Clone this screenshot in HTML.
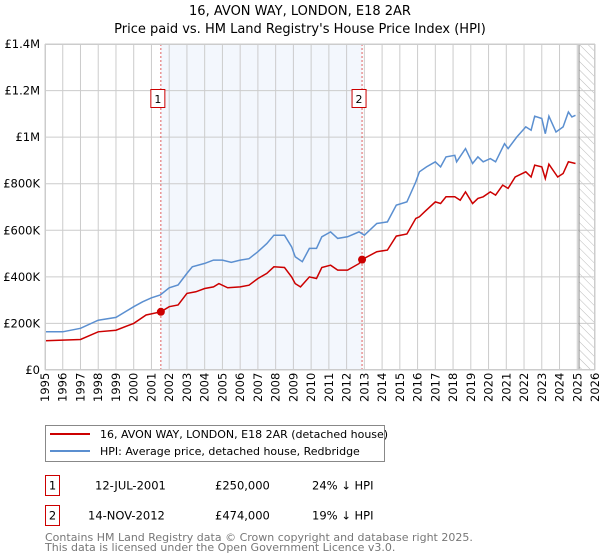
<!DOCTYPE html>
<html><head><meta charset="utf-8"><style>
body{margin:0;background:#fff;font-family:"DejaVu Sans","Liberation Sans",sans-serif;}
svg{display:block}
</style></head><body>
<svg id="c" width="600" height="560" font-family="DejaVu Sans, Liberation Sans, sans-serif">
<defs><pattern id="hatch" width="6" height="6" patternUnits="userSpaceOnUse" patternTransform="rotate(-45)"><line x1="0" y1="0" x2="0" y2="6" stroke="#bbb" stroke-width="1"/></pattern></defs>
<text x="300" y="15" text-anchor="middle" font-size="13">16, AVON WAY, LONDON, E18 2AR</text>
<text x="300" y="33" text-anchor="middle" font-size="13">Price paid vs. HM Land Registry's House Price Index (HPI)</text>
<g id="plot"></g>
<g>
<rect x="45.5" y="425.5" width="339" height="36" fill="#fff" stroke="#888"/>
<line x1="50" y1="434" x2="90" y2="434" stroke="#cc0000" stroke-width="2"/>
<text x="100" y="438" font-size="11">16, AVON WAY, LONDON, E18 2AR (detached house)</text>
<line x1="50" y1="451" x2="90" y2="451" stroke="#5b8fd0" stroke-width="2"/>
<text x="100" y="455" font-size="11">HPI: Average price, detached house, Redbridge</text>
</g>
<g font-size="11.5">
<rect x="45.5" y="475.5" width="14" height="20" fill="#fff" stroke="#cc0000"/>
<text x="52.5" y="489.5" text-anchor="middle">1</text>
<text x="95" y="489.5">12-JUL-2001</text>
<text x="215" y="489.5">£250,000</text>
<text x="312" y="489.5">24% ↓ HPI</text>
<rect x="45.5" y="505.5" width="14" height="20" fill="#fff" stroke="#cc0000"/>
<text x="52.5" y="519.5" text-anchor="middle">2</text>
<text x="88" y="519.5">14-NOV-2012</text>
<text x="215" y="519.5">£474,000</text>
<text x="312" y="519.5">19% ↓ HPI</text>
</g>
<text x="45" y="541" font-size="11" fill="#777">Contains HM Land Registry data © Crown copyright and database right 2025.</text>
<text x="45" y="551" font-size="11" fill="#777">This data is licensed under the Open Government Licence v3.0.</text>
</svg>
<script>
const hpiYears=[1995,1996,1997,1998,1999,2000,2000.5,2001,2001.5,2002,2002.5,2003,2003.3,2004,2004.5,2005,2005.5,2006,2006.5,2007,2007.5,2007.9,2008.5,2008.9,2009.1,2009.5,2009.9,2010.3,2010.6,2011.1,2011.5,2012.05,2012.7,2013,2013.7,2014.3,2014.8,2015.4,2015.9,2016.1,2016.5,2017,2017.3,2017.6,2018.1,2018.2,2018.7,2019.1,2019.4,2019.7,2020.1,2020.4,2020.9,2021.1,2021.6,2022.1,2022.4,2022.6,2023,2023.2,2023.4,2023.8,2024.2,2024.5,2024.7,2024.9];
const hpiValues=[164,164,179,214,226,272,293,310,322,353,365,415,443,458,472,472,462,472,478,508,543,579,579,529,486,465,522,522,572,593,565,572,593,579,629,636,708,722,808,851,872,894,872,915,922,894,951,887,915,894,908,894,972,951,1001,1044,1030,1090,1080,1015,1090,1022,1044,1108,1087,1094];
const propYears=[1995,1997,1998,1999,2000,2000.7,2001.53,2002,2002.5,2003,2003.5,2004,2004.5,2004.8,2005.3,2006,2006.5,2007,2007.5,2007.9,2008.5,2008.9,2009.1,2009.4,2009.9,2010.3,2010.6,2011.1,2011.5,2012.05,2012.7,2012.87,2013.7,2014.3,2014.8,2015.4,2015.9,2016.1,2016.4,2017,2017.3,2017.6,2018.1,2018.4,2018.7,2019.1,2019.4,2019.7,2020.1,2020.4,2020.8,2021.1,2021.5,2022.1,2022.4,2022.6,2023,2023.2,2023.4,2023.9,2024.2,2024.5,2024.9];
const propValues=[126,131,164,171,200,236,250,272,279,329,336,350,357,371,353,357,364,393,415,443,440,400,371,357,400,393,440,450,429,429,457,474,508,515,575,584,651,658,680,722,715,744,744,729,765,715,737,744,765,751,794,780,829,851,829,880,872,822,884,829,844,894,887];
const saleYears=[2001.53,2012.87];
const saleValues=[250,474];
const saleLabels=["1","2"];
const yTicks=[0,200,400,600,800,1000,1200,1400];
const yTickLabels=["£0","£200K","£400K","£600K","£800K","£1M","£1.2M","£1.4M"];
const xTicks=[1995,1996,1997,1998,1999,2000,2001,2002,2003,2004,2005,2006,2007,2008,2009,2010,2011,2012,2013,2014,2015,2016,2017,2018,2019,2020,2021,2022,2023,2024,2025,2026];
const X0=45,X1=595,Y0=370,Y1=44;
const xs=v=>X0+(v-1995)/(2026-1995)*(X1-X0);
const ys=v=>Y0-v/1400*(Y0-Y1);
const NS="http://www.w3.org/2000/svg";
const g=document.getElementById('plot');
function mk(t,a,p){const e=document.createElementNS(NS,t);for(const k in a)e.setAttribute(k,a[k]);(p||g).appendChild(e);return e;}
let e;
e=mk('rect',{x:xs(saleYears[0]),y:Y1,width:xs(saleYears[1])-xs(saleYears[0]),height:Y0-Y1,fill:'#eef3fc',opacity:0.7});


e=mk('rect',{x:xs(2025.1),y:Y1,width:X1-xs(2025.1),height:Y0-Y1,fill:'url(#hatch)'});


xTicks.forEach((t,i)=>{
 e=mk('line',{x1:xs(t),x2:xs(t),y1:Y1,y2:Y0,stroke:'#ccc','stroke-width':1});
 
 
 e=mk('text',{x:0,y:0,'font-size':11.5,transform:`translate(${xs(t)+4},${Y0+32}) rotate(-90)`});
 e.textContent=t;
 
 
});
yTicks.forEach((t,i)=>{
 e=mk('line',{x1:X0,x2:X1,y1:ys(t),y2:ys(t),stroke:'#ccc','stroke-width':1});
 
 
 e=mk('text',{x:X0-5,y:ys(t)+4,'text-anchor':'end','font-size':11.5});
 e.textContent=yTickLabels[i];
 
 
});
e=mk('line',{x1:xs(2025.1),x2:xs(2025.1),y1:Y1,y2:Y0,stroke:'#888','stroke-width':1});


saleYears.forEach((s,i)=>{
 e=mk('line',{x1:xs(s),x2:xs(s),y1:Y1,y2:Y0,stroke:'#e06060','stroke-width':1,'stroke-dasharray':'2,2'});
 
 
});
function line(xa,va,col,name){
 const d=xa.map((x,i)=>(i?'L':'M')+xs(x).toFixed(1)+','+ys(va[i]).toFixed(1)).join('');
 const p=mk('path',{d:d,fill:'none',stroke:col,'stroke-width':1.5});
 
 
}
line(hpiYears,hpiValues,'#5b8fd0','hpi-line');
line(propYears,propValues,'#cc0000','property-line');
saleYears.forEach((s,i)=>{
 e=mk('circle',{cx:xs(s),cy:ys(saleValues[i]),r:4,fill:'#cc0000'});
 
 
 e=mk('rect',{x:xs(s)-10,y:89.5,width:14,height:18,fill:'#fff',stroke:'#cc0000'});
 
 
 e=mk('text',{x:xs(s)-3,y:103,'text-anchor':'middle','font-size':11});
 e.textContent=saleLabels[i];
 
 
});
e=mk('rect',{x:X0+0.5,y:Y1+0.5,width:X1-X0-1,height:Y0-Y1-1,fill:'none',stroke:'#ccc'});


</script>
</body></html>
